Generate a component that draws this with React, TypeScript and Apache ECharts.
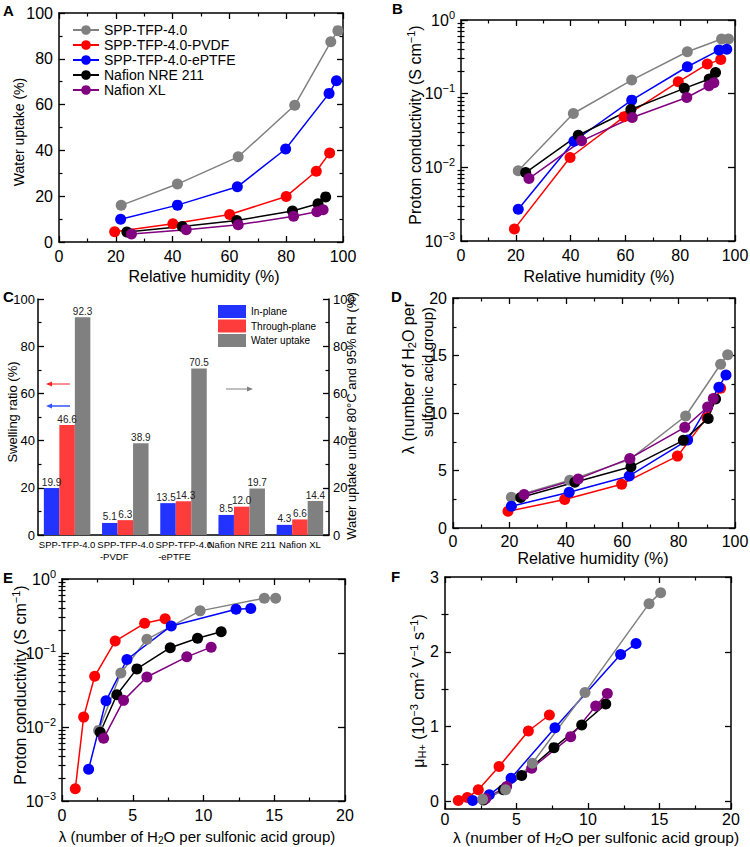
import React, { useEffect, useRef } from 'react';
import * as echarts from 'echarts';

const FONT = "'Liberation Sans', Arial, Helvetica, sans-serif";

const GRAY = '#808080';
const RED = '#ff0000';
const BLUE = '#0000ff';
const BLACK = '#000000';
const PURPLE = '#800080';

const seriesNames = ['SPP-TFP-4.0', 'SPP-TFP-4.0-PVDF', 'SPP-TFP-4.0-ePTFE', 'Nafion NRE 211', 'Nafion XL'];

// ---- Panel A: water uptake (%) vs relative humidity (%)
const aGrayX = [21.9, 41.7, 63.1, 83.0, 95.7, 98.2];
const aGrayY = [16.0, 25.3, 37.2, 59.7, 87.4, 92.3];
const aRedX = [19.6, 40.1, 60.1, 80.0, 90.6, 95.3];
const aRedY = [4.5, 8.0, 12.0, 19.9, 30.9, 38.9];
const aBlueX = [21.7, 41.7, 62.8, 79.8, 95.1, 97.7];
const aBlueY = [9.9, 16.1, 24.1, 40.6, 64.9, 70.4];
const aBlackX = [23.9, 43.4, 62.6, 82.2, 91.2, 93.9];
const aBlackY = [4.4, 6.8, 9.4, 13.5, 16.7, 19.7];
const aPurpleX = [25.5, 44.8, 63.1, 82.6, 90.8, 93.0];
const aPurpleY = [3.5, 5.4, 7.5, 11.2, 13.2, 14.1];

// ---- Panel B: proton conductivity (S/cm) vs RH
const bGrayX = [20.9, 41.0, 62.3, 82.6, 95.1, 97.6];
const bGrayY = [0.009, 0.0538, 0.153, 0.371, 0.551, 0.551];
const bRedX = [19.5, 39.8, 59.5, 79.3, 89.9, 94.8];
const bRedY = [0.00146, 0.0136, 0.0485, 0.145, 0.252, 0.29];
const bBlueX = [20.9, 41.2, 62.3, 82.6, 94.2, 97.0];
const bBlueY = [0.00269, 0.0226, 0.0817, 0.232, 0.391, 0.4];
const bBlackX = [23.6, 42.8, 62.0, 81.5, 90.6, 92.9];
const bBlackY = [0.0085, 0.0273, 0.061, 0.118, 0.158, 0.194];
const bPurpleX = [24.8, 44.0, 62.5, 82.4, 90.5, 92.3];
const bPurpleY = [0.00703, 0.0229, 0.0474, 0.0887, 0.128, 0.141];

// ---- Panel C: swelling ratio / water uptake bars
const cCategories = ['SPP-TFP-4.0', 'SPP-TFP-4.0\n -PVDF', 'SPP-TFP-4.0\n -ePTFE', 'Nafion NRE 211', 'Nafion XL'];
const cInPlane = [19.9, 5.1, 13.5, 8.5, 4.3];
const cThroughPlane = [46.6, 6.3, 14.3, 12.0, 6.6];
const cWaterUptake = [92.3, 38.9, 70.5, 19.7, 14.4];

// ---- Panel D: lambda vs RH
const dGrayX = [20.7, 41.4, 62.7, 82.5, 94.9, 97.4];
const dGrayY = [2.67, 4.16, 5.96, 9.74, 14.24, 15.06];
const dRedX = [19.5, 39.6, 59.8, 79.6, 90.0, 94.9];
const dRedY = [1.45, 2.47, 3.81, 6.25, 9.6, 12.15];
const dBlueX = [20.7, 41.2, 62.5, 83.2, 94.3, 96.8];
const dBlueY = [1.89, 3.11, 4.53, 7.65, 12.24, 13.31];
const dBlackX = [24.0, 43.2, 63.1, 81.7, 90.5, 93.1];
const dBlackY = [2.65, 3.98, 5.32, 7.62, 9.53, 11.22];
const dPurpleX = [25.2, 44.4, 62.7, 82.2, 90.3, 92.3];
const dPurpleY = [2.91, 4.27, 6.05, 8.75, 10.52, 11.25];

// ---- Panel E: conductivity vs lambda
const eGrayX = [2.59, 4.16, 6.0, 9.76, 14.3, 15.1];
const eGrayY = [0.009, 0.0538, 0.153, 0.371, 0.551, 0.551];
const eRedX = [0.94, 1.53, 2.31, 3.76, 5.84, 7.29];
const eRedY = [0.00146, 0.0136, 0.0485, 0.145, 0.252, 0.29];
const eBlueX = [1.88, 3.11, 4.59, 7.72, 12.3, 13.34];
const eBlueY = [0.00269, 0.0226, 0.0817, 0.232, 0.391, 0.4];
const eBlackX = [2.7, 3.88, 5.29, 7.65, 9.58, 11.25];
const eBlackY = [0.0085, 0.0273, 0.061, 0.118, 0.158, 0.194];
const ePurpleX = [2.94, 4.35, 6.0, 8.82, 10.54];
const ePurpleY = [0.00703, 0.0229, 0.0474, 0.0887, 0.12];

// ---- Panel F: proton mobility vs lambda
const fGrayX = [2.63, 4.24, 6.11, 9.79, 14.27, 15.08];
const fGrayY = [0.031, 0.156, 0.511, 1.458, 2.644, 2.791];
const fRedX = [0.93, 1.56, 2.33, 3.78, 5.83, 7.3];
const fRedY = [0.013, 0.053, 0.156, 0.467, 0.942, 1.156];
const fBlueX = [1.93, 3.1, 4.62, 7.69, 12.28, 13.36];
const fBlueY = [0.013, 0.089, 0.311, 0.987, 1.964, 2.111];
const fBlackX = [2.7, 4.08, 5.36, 7.62, 9.56, 11.24];
const fBlackY = [0.02, 0.156, 0.347, 0.72, 1.022, 1.302];
const fPurpleX = [2.85, 4.31, 6.06, 8.79, 10.54, 11.35];
const fPurpleY = [0.04, 0.2, 0.444, 0.867, 1.276, 1.444];

// ---- tick values
const logMajorTicks = [0.001, 0.01, 0.1, 1];
const logMinorTicks = [
  0.002, 0.003, 0.004, 0.005, 0.006, 0.007, 0.008, 0.009,
  0.02, 0.03, 0.04, 0.05, 0.06, 0.07, 0.08, 0.09,
  0.2, 0.3, 0.4, 0.5, 0.6, 0.7, 0.8, 0.9,
];
const fMajorTicks = [0, 1, 2, 3];
const fMinorTicks = [0.5, 1.5, 2.5];

const AXIS_LINE = { show: true, onZero: false, lineStyle: { color: '#000', width: 1.5 } };
const tickStyle = (len: number) => ({ show: true, inside: true, length: len, lineStyle: { color: '#000', width: 1.3 } });

function linAxis(grid: number, position: string, min: number, max: number, interval: number | undefined, showLabel: boolean, fontSize = 16, margin = 6, minor = true) {
  return {
    type: 'value', gridIndex: grid, position, min, max, interval,
    axisLine: AXIS_LINE,
    axisTick: tickStyle(6),
    minorTick: { show: minor, splitNumber: 2, length: 3.5, lineStyle: { color: '#000', width: 1.2 } },
    splitLine: { show: false },
    minorSplitLine: { show: false },
    axisLabel: { show: showLabel, fontSize, color: '#000', fontFamily: FONT, margin },
  };
}

const logRich = {
  b: { fontSize: 16, lineHeight: 22, fontFamily: FONT, color: '#000' },
  sup: { fontSize: 11, lineHeight: 11, verticalAlign: 'top', fontFamily: FONT, color: '#000' },
};

function logAxis(grid: number, position: string, showLabel: boolean) {
  return {
    type: 'log', logBase: 10, gridIndex: grid, position, min: 0.001, max: 1,
    axisLine: AXIS_LINE,
    axisTick: { ...tickStyle(7), customValues: logMajorTicks },
    minorTick: { show: false },
    splitLine: { show: false },
    axisLabel: {
      show: showLabel, margin: 6, customValues: logMajorTicks,
      formatter: (v: number) => {
        const e = Math.round(Math.log10(v));
        return '{b|10}{sup|' + (e === 0 ? '0' : '\u2212' + -e) + '}';
      },
      rich: logRich,
    },
  };
}

function minorOverlay(type: string, grid: number, position: string, min: number, max: number, values: number[]) {
  return {
    type, logBase: 10, gridIndex: grid, position, min, max,
    axisLine: { show: false },
    axisTick: { show: true, inside: true, length: 3.5, customValues: values, lineStyle: { color: '#000', width: 1.2 } },
    minorTick: { show: false },
    splitLine: { show: false },
    axisLabel: { show: false },
  };
}

const pts = (xs: number[], ys: number[]) => xs.map((x, i) => [x, ys[i]]);

function lineSeries(name: string, xi: number, yi: number, xs: number[], ys: number[], color: string) {
  return {
    type: 'line', name, xAxisIndex: xi, yAxisIndex: yi, data: pts(xs, ys),
    symbol: 'circle', symbolSize: 11, showSymbol: true,
    lineStyle: { color, width: 1.5 }, itemStyle: { color },
    emphasis: { disabled: true },
  };
}

function richFor(fs: number) {
  const s = Math.round(fs * 0.68);
  return {
    sup: { fontSize: s, lineHeight: s, verticalAlign: 'top', fontFamily: FONT, fill: '#000' },
    sub: { fontSize: s, lineHeight: s, verticalAlign: 'bottom', fontFamily: FONT, fill: '#000' },
  };
}

function title(x: number, y: number, text: string, fs: number, rot = false, align = 'center') {
  const rich = text.indexOf('{') >= 0;
  return {
    type: 'text', x, y, rotation: rot ? Math.PI / 2 : 0, silent: true,
    style: {
      text, fontSize: fs, fontFamily: FONT, fill: '#000', align, verticalAlign: 'middle',
      lineHeight: rich ? Math.round(fs * 1.2) : fs, rich: richFor(fs),
    },
  };
}

function letter(x: number, y: number, text: string) {
  return { type: 'text', x, y, silent: true, style: { text, fontSize: 15, fontWeight: 'bold', fontFamily: FONT, fill: '#000', verticalAlign: 'top' } };
}

function arrow(x1: number, x2: number, y: number, color: string, w: number) {
  const dir = x2 > x1 ? 1 : -1;
  return [
    { type: 'line', silent: true, shape: { x1, y1: y, x2: x2 - dir * 4, y2: y }, style: { stroke: color, lineWidth: w } },
    { type: 'polygon', silent: true, shape: { points: [[x2, y], [x2 - dir * 6, y - 2.5], [x2 - dir * 6, y + 2.5]] }, style: { fill: color } },
  ];
}

function buildOption() {
  const xAxes: any[] = [];
  const yAxes: any[] = [];
  const series: any[] = [];
  const addX = (a: any) => { xAxes.push(a); return xAxes.length - 1; };
  const addY = (a: any) => { yAxes.push(a); return yAxes.length - 1; };

  // A
  const axA = addX(linAxis(0, 'bottom', 0, 100, 20, true));
  addX(linAxis(0, 'top', 0, 100, 20, false));
  const ayA = addY(linAxis(0, 'left', 0, 100, 20, true));
  addY(linAxis(0, 'right', 0, 100, 20, false));
  series.push(lineSeries(seriesNames[0], axA, ayA, aGrayX, aGrayY, GRAY));
  series.push(lineSeries(seriesNames[1], axA, ayA, aRedX, aRedY, RED));
  series.push(lineSeries(seriesNames[2], axA, ayA, aBlueX, aBlueY, BLUE));
  series.push(lineSeries(seriesNames[3], axA, ayA, aBlackX, aBlackY, BLACK));
  series.push(lineSeries(seriesNames[4], axA, ayA, aPurpleX, aPurpleY, PURPLE));

  // B
  const axB = addX(linAxis(1, 'bottom', 0, 100, 20, true));
  addX(linAxis(1, 'top', 0, 100, 20, false));
  const ayB = addY(logAxis(1, 'left', true));
  addY(minorOverlay('log', 1, 'left', 0.001, 1, logMinorTicks));
  addY(logAxis(1, 'right', false));
  addY(minorOverlay('log', 1, 'right', 0.001, 1, logMinorTicks));
  series.push(lineSeries(seriesNames[0], axB, ayB, bGrayX, bGrayY, GRAY));
  series.push(lineSeries(seriesNames[1], axB, ayB, bRedX, bRedY, RED));
  series.push(lineSeries(seriesNames[2], axB, ayB, bBlueX, bBlueY, BLUE));
  series.push(lineSeries(seriesNames[3], axB, ayB, bBlackX, bBlackY, BLACK));
  series.push(lineSeries(seriesNames[4], axB, ayB, bPurpleX, bPurpleY, PURPLE));

  // C
  const axC = addX({
    type: 'category', gridIndex: 2, position: 'bottom', data: cCategories,
    axisLine: AXIS_LINE, axisTick: { show: false }, splitLine: { show: false },
    axisLabel: {
      interval: 0, fontSize: 9.5, margin: 3, color: '#000', fontFamily: FONT, lineHeight: 12,
      formatter: (v: string) => (v.indexOf('\n') >= 0 ? v.split('\n').map((s) => '{l|' + s + '}').join('\n') : v),
      rich: { l: { width: 56, align: 'left', fontSize: 9.5, lineHeight: 12, fontFamily: FONT, color: '#000' } },
    },
  });
  const ayCL = addY(linAxis(2, 'left', 0, 100, 20, true, 13, 3));
  const ayCR = addY(linAxis(2, 'right', 0, 100, 20, true, 13, 4));
  const barLabel = {
    show: true, position: 'top', distance: 1, fontSize: 10, color: '#222', fontFamily: FONT,
    formatter: (p: any) => Number(p.value).toFixed(1),
  };
  // nudge the two touching labels of the third group apart a little
  const nudge = (vals: number[], idx: number, dx: number) =>
    vals.map((v, i) => (i === idx ? { value: v, label: { offset: [dx, 0] } } : v));
  series.push({ type: 'bar', name: 'In-plane', xAxisIndex: axC, yAxisIndex: ayCL, data: nudge(cInPlane, 2, -2), barWidth: 15.5, barGap: '0%', barCategoryGap: '20%', itemStyle: { color: '#2233ff' }, label: barLabel, emphasis: { disabled: true } });
  series.push({ type: 'bar', name: 'Through-plane', xAxisIndex: axC, yAxisIndex: ayCL, data: nudge(cThroughPlane, 2, 2), barWidth: 15.5, barGap: '0%', itemStyle: { color: '#ff3c3c' }, label: barLabel, emphasis: { disabled: true } });
  series.push({ type: 'bar', name: 'Water uptake', xAxisIndex: axC, yAxisIndex: ayCR, data: cWaterUptake, barWidth: 15.5, barGap: '0%', itemStyle: { color: '#808080' }, label: barLabel, emphasis: { disabled: true } });

  // D
  const axD = addX(linAxis(3, 'bottom', 0, 100, 20, true, 16, 5));
  addX(linAxis(3, 'top', 0, 100, 20, false));
  const ayD = addY(linAxis(3, 'left', 0, 20, 5, true));
  addY(linAxis(3, 'right', 0, 20, 5, false));
  series.push(lineSeries(seriesNames[0], axD, ayD, dGrayX, dGrayY, GRAY));
  series.push(lineSeries(seriesNames[1], axD, ayD, dRedX, dRedY, RED));
  series.push(lineSeries(seriesNames[2], axD, ayD, dBlueX, dBlueY, BLUE));
  series.push(lineSeries(seriesNames[3], axD, ayD, dBlackX, dBlackY, BLACK));
  series.push(lineSeries(seriesNames[4], axD, ayD, dPurpleX, dPurpleY, PURPLE));

  // E
  const axE = addX(linAxis(4, 'bottom', 0, 20, 5, true));
  addX(linAxis(4, 'top', 0, 20, 5, false));
  const ayE = addY(logAxis(4, 'left', true));
  addY(minorOverlay('log', 4, 'left', 0.001, 1, logMinorTicks));
  addY(logAxis(4, 'right', false));
  addY(minorOverlay('log', 4, 'right', 0.001, 1, logMinorTicks));
  series.push(lineSeries(seriesNames[0], axE, ayE, eGrayX, eGrayY, GRAY));
  series.push(lineSeries(seriesNames[1], axE, ayE, eRedX, eRedY, RED));
  series.push(lineSeries(seriesNames[2], axE, ayE, eBlueX, eBlueY, BLUE));
  series.push(lineSeries(seriesNames[3], axE, ayE, eBlackX, eBlackY, BLACK));
  series.push(lineSeries(seriesNames[4], axE, ayE, ePurpleX, ePurpleY, PURPLE));

  // F
  const axF = addX(linAxis(5, 'bottom', 0, 20, 5, true, 16, 2));
  addX(linAxis(5, 'top', 0, 20, 5, false));
  const fMajor = (pos: string, show: boolean) => ({
    ...linAxis(5, pos, -0.1, 3, undefined, show, 16, 6, false),
    axisTick: { ...tickStyle(6), customValues: fMajorTicks },
    axisLabel: { show, fontSize: 16, color: '#000', fontFamily: FONT, margin: 6, customValues: fMajorTicks },
  });
  const ayF = addY(fMajor('left', true));
  addY(minorOverlay('value', 5, 'left', -0.1, 3, fMinorTicks));
  addY(fMajor('right', false));
  addY(minorOverlay('value', 5, 'right', -0.1, 3, fMinorTicks));
  series.push(lineSeries(seriesNames[1], axF, ayF, fRedX, fRedY, RED));
  series.push(lineSeries(seriesNames[2], axF, ayF, fBlueX, fBlueY, BLUE));
  series.push(lineSeries(seriesNames[3], axF, ayF, fBlackX, fBlackY, BLACK));
  series.push(lineSeries(seriesNames[4], axF, ayF, fPurpleX, fPurpleY, PURPLE));
  series.push(lineSeries(seriesNames[0], axF, ayF, fGrayX, fGrayY, GRAY));

  const lambdaTitle = '\u03bb (number of H{sub|2}O per sulfonic acid group)';

  const graphic: any[] = [
    letter(3, 3, 'A'), letter(392, 1, 'B'), letter(3, 289, 'C'),
    letter(391, 289, 'D'), letter(3, 570, 'E'), letter(391, 569, 'F'),
    title(19, 132, 'Water uptake (%)', 14, true),
    title(204, 276, 'Relative humidity (%)', 16),
    title(415, 125, 'Proton conductivity (S cm{sup|\u22121})', 16, true),
    title(599, 276, 'Relative humidity (%)', 16),
    title(12, 412, 'Swelling ratio (%)', 13, true),
    title(351, 416, 'Water uptake under 80\u00b0C and 95% RH (%)', 13, true),
    title(408, 302, '\u03bb (number of H{sub|2}O per', 16, true, 'right'),
    title(427, 307, 'sulfonic acid group)', 15, true, 'right'),
    title(593, 558, 'Relative humidity (%)', 16),
    title(20, 685, 'Proton conductivity (S cm{sup|\u22121})', 16, true),
    title(197, 836, lambdaTitle, 15),
    title(418, 691, '\u03bc{sub|H+} (10{sup|\u22123} cm{sup|2} V{sup|\u22121} s{sup|\u22121})', 16, true),
    title(596, 837, lambdaTitle, 15.5),
    ...arrow(70, 46, 384, '#ff2020', 1),
    ...arrow(70, 46, 406, '#3355ff', 1.5),
    ...arrow(226, 253, 389, '#808080', 1),
  ];

  return {
    animation: false,
    backgroundColor: '#ffffff',
    textStyle: { fontFamily: FONT },
    grid: [
      { left: 59, top: 13, width: 284, height: 229, outerBoundsMode: 'none' },
      { left: 461, top: 20, width: 274, height: 221, outerBoundsMode: 'none' },
      { left: 38, top: 299, width: 291, height: 236, outerBoundsMode: 'none' },
      { left: 453, top: 298, width: 282, height: 230, outerBoundsMode: 'none' },
      { left: 62, top: 579, width: 283, height: 222, outerBoundsMode: 'none' },
      { left: 445, top: 577, width: 286, height: 232, outerBoundsMode: 'none' },
    ],
    legend: [
      {
        data: seriesNames, orient: 'vertical', left: 72, top: 23, itemWidth: 26, itemHeight: 12, itemGap: 1,
        selectedMode: false, padding: 0,
        textStyle: { fontSize: 14, fontFamily: FONT, color: '#000', lineHeight: 14 },
      },
      {
        data: ['In-plane', 'Through-plane', 'Water uptake'], orient: 'vertical', left: 218, top: 305,
        itemWidth: 28, itemHeight: 13, itemGap: 1.5, icon: 'rect', selectedMode: false, padding: 0,
        textStyle: { fontSize: 10, fontFamily: FONT, color: '#000', lineHeight: 13 },
      },
    ],
    xAxis: xAxes,
    yAxis: yAxes,
    series,
    graphic,
  };
}

export default function App() {
  const ref = useRef<HTMLDivElement>(null);
  useEffect(() => {
    const chart = echarts.init(ref.current as HTMLDivElement, null, { renderer: 'svg' });
    chart.setOption(buildOption() as any);
    return () => chart.dispose();
  }, []);
  return <div ref={ref} style={{ position: 'fixed', left: 0, top: 0, width: 750, height: 847, background: '#fff' }} />;
}
